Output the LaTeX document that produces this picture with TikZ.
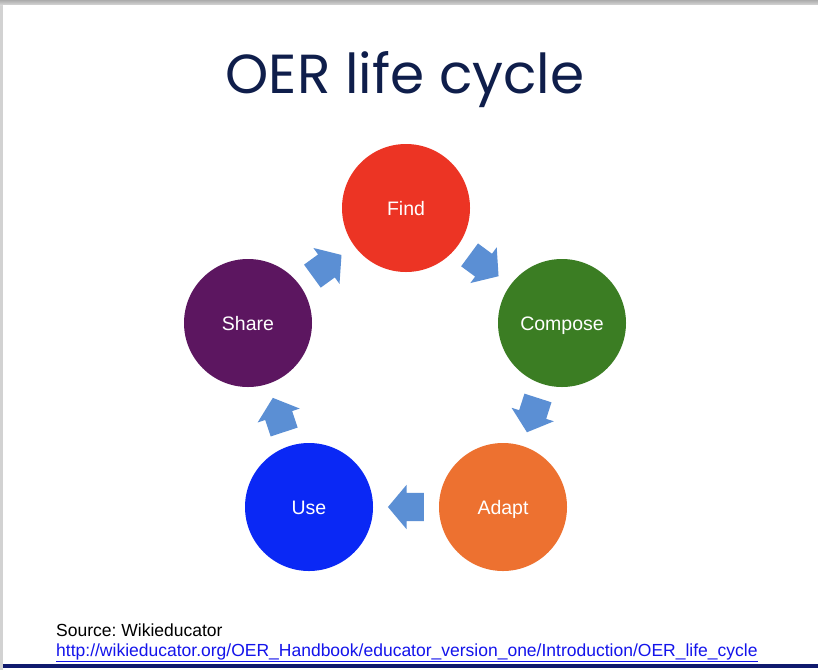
\documentclass[tikz,border=0pt]{standalone}
\usepackage{fontspec}
\setmainfont{Liberation Sans}
\newfontfamily\titlefont{Poppins}
\usetikzlibrary{shapes.arrows}

\definecolor{findred}{RGB}{236,52,36}
\definecolor{composegreen}{RGB}{59,125,35}
\definecolor{adaptorange}{RGB}{237,113,48}
\definecolor{useblue}{RGB}{10,40,245}
\definecolor{sharepurple}{RGB}{92,22,96}
\definecolor{arrowblue}{RGB}{91,143,212}
\definecolor{titlenavy}{RGB}{15,30,75}
\definecolor{rulenavy}{RGB}{16,26,110}
\definecolor{linkblue}{RGB}{20,20,235}

\begin{document}
\frenchspacing
\begin{tikzpicture}[x=1pt, y=-1pt,
  stage/.style = {circle, minimum size=128pt, inner sep=0pt, text=white,
    text height=18pt, text depth=3pt, font=\fontsize{19.5}{22}\selectfont},
  cyclearrow/.style = {single arrow, fill=arrowblue, draw=none,
    minimum height=36pt, inner xsep=0pt, inner ysep=14pt,
    single arrow head extend=8pt, single arrow tip angle=100,
    pos=0.41, sloped, allow upside down}]
  \useasboundingbox (0,0) rectangle (818,670);
  % slide with its shadow
  \shade[top color=gray!65, bottom color=gray!25] (0,0) rectangle (818,6);
  \fill[gray!35] (0,6) rectangle (3,670);
  \fill[white] (3,5) rectangle (818,670);
  \fill[rulenavy] (3,664) rectangle (818,668);

  \node[anchor=base, text=titlenavy, font=\titlefont\fontsize{55}{60}\selectfont]
    (title) at (405,93) {OER life cycle};

  % the five stages
  \node[stage, fill=findred]      (find)    at (406,208) {Find};
  \node[stage, fill=composegreen] (compose) at (562,323) {Compose};
  \node[stage, fill=adaptorange]  (adapt)   at (503,507) {Adapt};
  \node[stage, fill=useblue]      (use)     at (309,507) {Use};
  \node[stage, fill=sharepurple]  (share)   at (248,323) {Share};

  % block arrows between them
  \path (find) -- node[cyclearrow] {} (compose);
  \path (compose) -- node[cyclearrow] {} (adapt);
  \path (adapt) -- node[cyclearrow] {} (use);
  \path (use) -- node[cyclearrow] {} (share);
  \path (share) -- node[cyclearrow] {} (find);

  % source
  \node[anchor=base west, inner sep=0pt, font=\fontsize{17.5}{20}\selectfont]
    (source) at (56,636) {Source: Wikieducator};
  \node[anchor=base west, inner sep=0pt, text=linkblue, font=\fontsize{17.5}{20}\selectfont]
    (link) at (56,656)
    {\underline{http://wikieducator.org/OER\_Handbook/educator\_version\_one/Introduction/OER\_life\_cycle}};
\end{tikzpicture}
\end{document}
